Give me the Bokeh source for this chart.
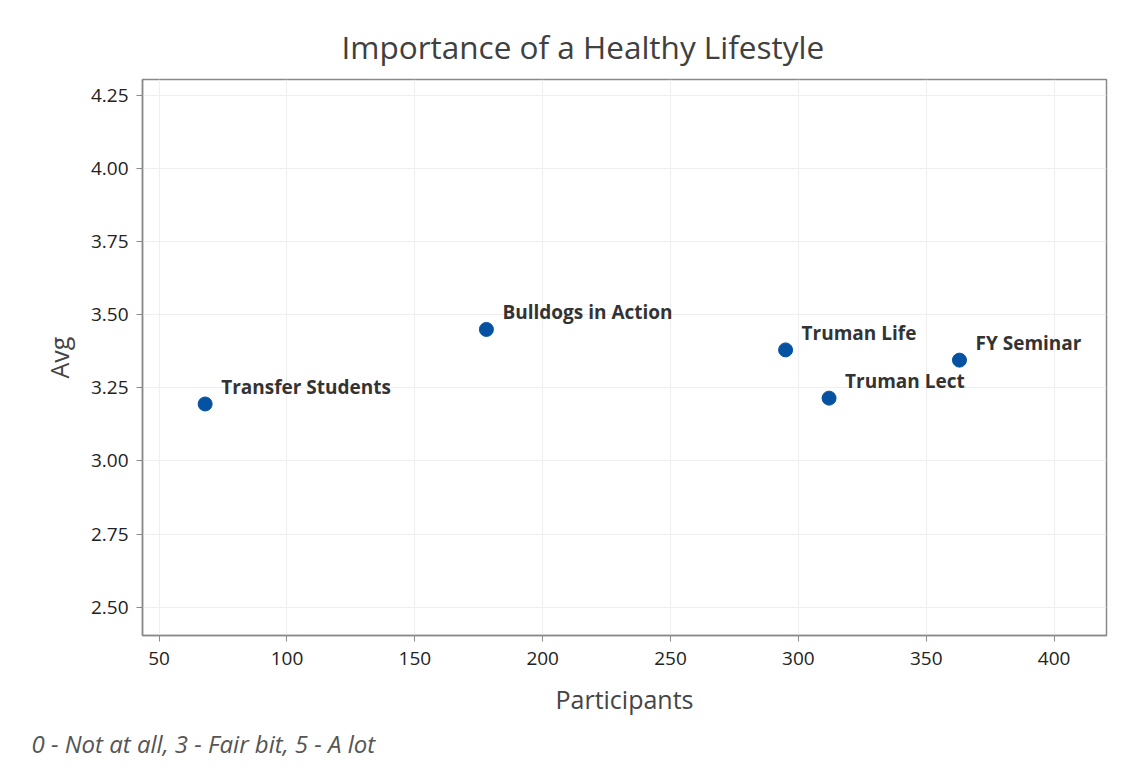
from bokeh.plotting import figure
from bokeh.models import ColumnDataSource, LabelSet, Title, FixedTicker, Range1d, NumeralTickFormatter
from bokeh.core.properties import value
from bokeh.embed import file_html
from bokeh.resources import INLINE

groups = ["Transfer Students", "Bulldogs in Action", "Truman Life", "Truman Lect", "FY Seminar"]
participants = [68, 178, 295, 312, 363]
avg = [3.195, 3.45, 3.38, 3.215, 3.345]
x_ticks = [50, 100, 150, 200, 250, 300, 350, 400]
y_ticks = [2.50, 2.75, 3.00, 3.25, 3.50, 3.75, 4.00, 4.25]

FONT = "Open Sans"

src = ColumnDataSource(dict(x=participants, y=avg, name=groups))

W, H = 1146, 770
p = figure(width=W, height=H, output_backend="svg", toolbar_location=None,
           x_range=Range1d(43.5, 420.5), y_range=Range1d(2.403, 4.305),
           min_border_left=142, min_border_right=40, min_border_top=79, min_border_bottom=135)

p.title.text = "Importance of a Healthy Lifestyle"
p.title.align = "left"
p.title.offset = 199
p.title.text_font = FONT
p.title.text_font_size = "31.5px"
p.title.text_font_style = "normal"
p.title.text_color = "#404040"
p.title.standoff = 24

p.outline_line_color = "#8a8a8a"
p.outline_line_width = 1.5

for ax in (p.xaxis[0], p.yaxis[0]):
    ax.axis_line_color = "#8a8a8a"
    ax.axis_line_width = 1.5
    ax.major_tick_line_color = "#8a8a8a"
    ax.major_tick_out = 6
    ax.major_tick_in = 0
    ax.minor_tick_out = 0
    ax.minor_tick_in = 0
    ax.major_label_text_font = FONT
    ax.major_label_text_font_size = "19px"
    ax.major_label_text_color = "#222222"
    ax.axis_label_text_font = FONT
    ax.axis_label_text_font_size = "25px"
    ax.axis_label_text_font_style = "normal"
    ax.axis_label_text_color = "#454545"

p.xaxis.axis_label = "Participants"
p.yaxis.axis_label = "Avg"
p.xaxis.ticker = FixedTicker(ticks=x_ticks)
p.yaxis.ticker = FixedTicker(ticks=y_ticks)
p.yaxis.formatter = NumeralTickFormatter(format="0.00")
p.xaxis.major_label_standoff = 10
p.yaxis.major_label_standoff = 8
p.xaxis.axis_label_standoff = 14
p.yaxis.axis_label_standoff = 12

p.xgrid.ticker = FixedTicker(ticks=x_ticks)
p.ygrid.ticker = FixedTicker(ticks=y_ticks)
p.grid.grid_line_color = "#efefef"
p.grid.grid_line_width = 1.2

p.scatter("x", "y", source=src, size=14, fill_color="#0552a3", line_color="#0552a3")

labels = LabelSet(x="x", y="y", text="name", source=src, x_offset=16, y_offset=17,
                  text_font=value(FONT), text_font_size="19px", text_font_style="bold",
                  text_color="#333333", text_baseline="middle", text_align="left")
p.add_layout(labels)

foot = Title(text="0 - Not at all, 3 - Fair bit, 5 - A lot", align="left", offset=-111,
             text_font=FONT, text_font_size="24px", text_font_style="italic",
             text_color="#555555", standoff=13)
p.add_layout(foot, "below")

p.background_fill_color = "white"
p.border_fill_color = "white"

open("out.html", "w").write(file_html(p, INLINE))
